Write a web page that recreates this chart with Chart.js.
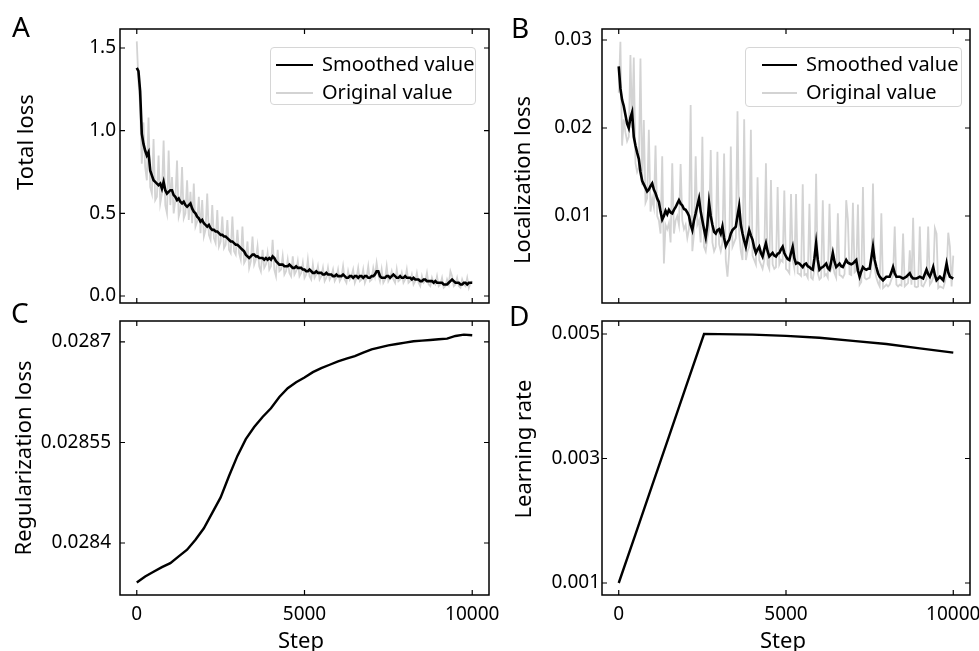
<!DOCTYPE html>
<html>
<head>
<meta charset="utf-8">
<script src="https://cdn.jsdelivr.net/npm/chart.js@4.4.1/dist/chart.umd.min.js"></script>
<style>
  body { margin: 0; background: #fff; }
  #fig { position: relative; width: 979px; height: 651px; overflow: hidden; font-family: "Noto Sans", sans-serif; color: #000; }
  canvas { position: absolute; }
  .letter { position: absolute; font-size: 28px; line-height: 28px; }
  .ytitle { position: absolute; font-size: 22px; line-height: 22px; white-space: nowrap; transform: translate(-50%, -50%) rotate(-90deg); }
  .xtitle { position: absolute; font-size: 22px; line-height: 22px; white-space: nowrap; transform: translate(-50%, -50%); }
  .legend { position: absolute; border: 1px solid #d6d6d6; border-radius: 4px; background: rgba(255,255,255,0.8); box-sizing: border-box; }
  .legend .row { position: absolute; height: 20px; font-size: 20px; line-height: 20px; white-space: nowrap; }
  .legend .sw { position: absolute; height: 0; }
</style>
</head>
<body>
<div id="fig">
  <canvas id="chartA" width="494" height="329" style="left:20px;top:4px"></canvas>
  <canvas id="chartB" width="493" height="329" style="left:502px;top:4px"></canvas>
  <canvas id="chartC" width="494" height="359" style="left:20px;top:296px"></canvas>
  <canvas id="chartD" width="493" height="359" style="left:502px;top:296px"></canvas>

  <div class="letter" style="left:12px;top:12px">A</div>
  <div class="letter" style="left:511px;top:13px">B</div>
  <div class="letter" style="left:11px;top:298px">C</div>
  <div class="letter" style="left:509px;top:301px">D</div>

  <div class="ytitle" style="left:24px;top:142px">Total loss</div>
  <div class="ytitle" style="left:521px;top:180px">Localization loss</div>
  <div class="ytitle" style="left:21.5px;top:458px">Regularization loss</div>
  <div class="ytitle" style="left:522px;top:449px">Learning rate</div>
  <div class="xtitle" style="left:301px;top:639px">Step</div>
  <div class="xtitle" style="left:783px;top:639px">Step</div>

  <div class="legend" style="left:270px;top:47px;width:206px;height:58px">
    <div class="sw" style="left:5px;top:16px;width:37px;border-top:2.5px solid #000"></div>
    <div class="row" style="left:51px;top:6px">Smoothed value</div>
    <div class="sw" style="left:5px;top:44px;width:37px;border-top:2.5px solid #d3d3d3"></div>
    <div class="row" style="left:51px;top:34px">Original value</div>
  </div>
  <div class="legend" style="left:745px;top:47px;width:217px;height:60px">
    <div class="sw" style="left:16px;top:16px;width:35px;border-top:2.5px solid #000"></div>
    <div class="row" style="left:60px;top:6px">Smoothed value</div>
    <div class="sw" style="left:16px;top:44px;width:35px;border-top:2.5px solid #d3d3d3"></div>
    <div class="row" style="left:60px;top:34px">Original value</div>
  </div>
</div>

<script>
// step grid for the noisy loss curves (every 50 steps, 0..10000)
const stepsLoss = Array.from({ length: 201 }, (_, i) => i * 50);

const totalSmoothed = [
  1.38, 1.36, 1.24, 0.98, 0.92, 0.88, 0.85, 0.87, 0.76, 0.73, 0.70, 0.69, 0.68, 0.67, 0.68, 0.65, 0.69, 0.64, 0.62, 0.63,
  0.64, 0.64, 0.61, 0.60, 0.58, 0.59, 0.57, 0.56, 0.57, 0.55, 0.54, 0.55, 0.56, 0.53, 0.51, 0.50, 0.48, 0.47, 0.45, 0.46,
  0.44, 0.43, 0.42, 0.43, 0.41, 0.40, 0.40, 0.39, 0.39, 0.38, 0.37, 0.37, 0.36, 0.36, 0.35, 0.34, 0.33, 0.33, 0.32, 0.31,
  0.31, 0.30, 0.29, 0.28, 0.27, 0.25, 0.24, 0.23, 0.24, 0.25, 0.25, 0.24, 0.24, 0.23, 0.23, 0.23, 0.22, 0.23, 0.22, 0.23,
  0.22, 0.24, 0.23, 0.21, 0.20, 0.19, 0.19, 0.19, 0.18, 0.18, 0.18, 0.19, 0.18, 0.17, 0.17, 0.18, 0.17, 0.17, 0.17, 0.16,
  0.16, 0.15, 0.15, 0.16, 0.15, 0.14, 0.14, 0.15, 0.14, 0.14, 0.14, 0.13, 0.13, 0.14, 0.13, 0.13, 0.13, 0.12, 0.12, 0.13,
  0.12, 0.12, 0.12, 0.13, 0.12, 0.11, 0.11, 0.12, 0.12, 0.11, 0.12, 0.12, 0.11, 0.12, 0.12, 0.11, 0.12, 0.12, 0.11, 0.11,
  0.12, 0.12, 0.13, 0.15, 0.15, 0.12, 0.11, 0.11, 0.11, 0.12, 0.12, 0.11, 0.12, 0.13, 0.12, 0.11, 0.11, 0.12, 0.11, 0.11,
  0.12, 0.11, 0.11, 0.11, 0.10, 0.11, 0.10, 0.10, 0.10, 0.09, 0.09, 0.10, 0.10, 0.09, 0.09, 0.09, 0.09, 0.08, 0.09, 0.08,
  0.08, 0.08, 0.08, 0.07, 0.07, 0.07, 0.08, 0.09, 0.10, 0.09, 0.08, 0.08, 0.08, 0.07, 0.07, 0.08, 0.08, 0.07, 0.08, 0.08,
  0.08
];
const totalOriginal = [
  1.54, 1.30, 1.15, 0.80, 1.05, 0.78, 0.70, 1.08, 0.66, 0.62, 0.95, 0.58, 0.60, 0.85, 0.56, 0.62, 0.94, 0.55, 0.50, 0.88,
  0.55, 0.72, 0.50, 0.58, 0.82, 0.48, 0.52, 0.78, 0.47, 0.50, 0.70, 0.46, 0.63, 0.44, 0.68, 0.42, 0.45, 0.60, 0.38, 0.58,
  0.36, 0.40, 0.62, 0.37, 0.34, 0.55, 0.35, 0.32, 0.52, 0.30, 0.33, 0.48, 0.29, 0.31, 0.46, 0.28, 0.26, 0.48, 0.27, 0.25,
  0.40, 0.26, 0.22, 0.42, 0.20, 0.22, 0.33, 0.17, 0.21, 0.36, 0.19, 0.22, 0.30, 0.18, 0.15, 0.28, 0.17, 0.19, 0.26, 0.16,
  0.18, 0.34, 0.16, 0.12, 0.28, 0.15, 0.16, 0.24, 0.13, 0.15, 0.22, 0.14, 0.12, 0.24, 0.13, 0.15, 0.21, 0.12, 0.14, 0.20,
  0.11, 0.13, 0.22, 0.12, 0.10, 0.19, 0.11, 0.13, 0.18, 0.10, 0.12, 0.17, 0.09, 0.11, 0.17, 0.10, 0.12, 0.16, 0.09, 0.11,
  0.16, 0.09, 0.11, 0.18, 0.10, 0.08, 0.15, 0.10, 0.12, 0.16, 0.08, 0.11, 0.17, 0.09, 0.10, 0.16, 0.08, 0.11, 0.18, 0.09,
  0.10, 0.17, 0.12, 0.20, 0.13, 0.09, 0.16, 0.08, 0.10, 0.18, 0.09, 0.11, 0.15, 0.10, 0.08, 0.16, 0.09, 0.10, 0.14, 0.08,
  0.10, 0.16, 0.08, 0.09, 0.13, 0.07, 0.09, 0.14, 0.08, 0.06, 0.12, 0.08, 0.09, 0.14, 0.07, 0.06, 0.11, 0.08, 0.07, 0.12,
  0.06, 0.07, 0.11, 0.05, 0.06, 0.10, 0.07, 0.15, 0.12, 0.06, 0.07, 0.11, 0.06, 0.05, 0.10, 0.07, 0.06, 0.11, 0.05, 0.08,
  0.09
];

const locSmoothed = [
  0.0270, 0.0245, 0.0232, 0.0225, 0.0215, 0.0205, 0.0200, 0.0212, 0.0218, 0.0190, 0.0180, 0.0172, 0.0165, 0.0150, 0.0140, 0.0136, 0.0132, 0.0128, 0.0130, 0.0134,
  0.0137, 0.0130, 0.0126, 0.0120, 0.0116, 0.0105, 0.0096, 0.0100, 0.0106, 0.0102, 0.0107, 0.0104, 0.0103, 0.0107, 0.0110, 0.0114, 0.0118, 0.0114, 0.0112, 0.0108,
  0.0107, 0.0104, 0.0100, 0.0090, 0.0084, 0.0095, 0.0103, 0.0112, 0.0120, 0.0105, 0.0095, 0.0085, 0.0076, 0.0090, 0.0115, 0.0100, 0.0090, 0.0082, 0.0080, 0.0084,
  0.0085, 0.0080, 0.0088, 0.0075, 0.0066, 0.0070, 0.0073, 0.0080, 0.0084, 0.0086, 0.0088, 0.0100, 0.0111, 0.0090, 0.0080, 0.0072, 0.0065, 0.0075, 0.0084, 0.0078,
  0.0073, 0.0064, 0.0058, 0.0062, 0.0065, 0.0058, 0.0054, 0.0062, 0.0069, 0.0060, 0.0054, 0.0056, 0.0058, 0.0055, 0.0054, 0.0057, 0.0058, 0.0062, 0.0065, 0.0058,
  0.0054, 0.0051, 0.0050, 0.0058, 0.0065, 0.0052, 0.0046, 0.0047, 0.0046, 0.0044, 0.0042, 0.0045, 0.0046, 0.0043, 0.0042, 0.0040, 0.0039, 0.0052, 0.0069, 0.0050,
  0.0039, 0.0041, 0.0042, 0.0044, 0.0046, 0.0041, 0.0039, 0.0048, 0.0058, 0.0048, 0.0042, 0.0044, 0.0046, 0.0043, 0.0042, 0.0046, 0.0050, 0.0047, 0.0046, 0.0045,
  0.0046, 0.0048, 0.0050, 0.0038, 0.0031, 0.0037, 0.0042, 0.0040, 0.0039, 0.0040, 0.0040, 0.0052, 0.0065, 0.0050, 0.0042, 0.0035, 0.0031, 0.0029, 0.0027, 0.0029,
  0.0031, 0.0031, 0.0031, 0.0036, 0.0042, 0.0035, 0.0031, 0.0031, 0.0031, 0.0030, 0.0029, 0.0030, 0.0031, 0.0033, 0.0035, 0.0031, 0.0029, 0.0029, 0.0029, 0.0030,
  0.0031, 0.0030, 0.0029, 0.0034, 0.0039, 0.0034, 0.0031, 0.0036, 0.0042, 0.0033, 0.0027, 0.0029, 0.0031, 0.0029, 0.0027, 0.0036, 0.0046, 0.0036, 0.0031, 0.0030,
  0.0029
];
const locOriginal = [
  0.0240, 0.0298, 0.0180, 0.0210, 0.0195, 0.0185, 0.0190, 0.0283, 0.0200, 0.0280, 0.0160, 0.0150, 0.0155, 0.0279, 0.0135, 0.0209, 0.0115, 0.0120, 0.0198, 0.0105,
  0.0120, 0.0110, 0.0180, 0.0100, 0.0095, 0.0080, 0.0168, 0.0046, 0.0090, 0.0085, 0.0092, 0.0070, 0.0160, 0.0080, 0.0095, 0.0100, 0.0090, 0.0159, 0.0095, 0.0085,
  0.0090, 0.0075, 0.0085, 0.0226, 0.0060, 0.0080, 0.0168, 0.0090, 0.0095, 0.0070, 0.0190, 0.0065, 0.0060, 0.0075, 0.0085, 0.0175, 0.0070, 0.0060, 0.0065, 0.0173,
  0.0068, 0.0060, 0.0070, 0.0171, 0.0050, 0.0031, 0.0058, 0.0179, 0.0065, 0.0070, 0.0075, 0.0219, 0.0080, 0.0060, 0.0050, 0.0210, 0.0050, 0.0060, 0.0065, 0.0198,
  0.0055, 0.0050, 0.0045, 0.0144, 0.0050, 0.0045, 0.0040, 0.0050, 0.0160, 0.0045, 0.0040, 0.0141, 0.0045, 0.0040, 0.0042, 0.0133, 0.0045, 0.0050, 0.0048, 0.0129,
  0.0040, 0.0038, 0.0035, 0.0125, 0.0050, 0.0040, 0.0125, 0.0035, 0.0034, 0.0032, 0.0136, 0.0033, 0.0034, 0.0030, 0.0114, 0.0030, 0.0028, 0.0040, 0.0148, 0.0035,
  0.0028, 0.0030, 0.0118, 0.0032, 0.0034, 0.0030, 0.0114, 0.0040, 0.0045, 0.0035, 0.0030, 0.0103, 0.0033, 0.0032, 0.0030, 0.0034, 0.0118, 0.0096, 0.0034, 0.0033,
  0.0115, 0.0036, 0.0038, 0.0113, 0.0022, 0.0025, 0.0133, 0.0030, 0.0028, 0.0029, 0.0030, 0.0040, 0.0137, 0.0040, 0.0030, 0.0024, 0.0020, 0.0103, 0.0018, 0.0020,
  0.0022, 0.0020, 0.0022, 0.0028, 0.0032, 0.0088, 0.0022, 0.0020, 0.0022, 0.0021, 0.0080, 0.0020, 0.0022, 0.0024, 0.0061, 0.0022, 0.0098, 0.0020, 0.0019, 0.0020,
  0.0088, 0.0021, 0.0020, 0.0024, 0.0028, 0.0088, 0.0022, 0.0025, 0.0030, 0.0086, 0.0080, 0.0018, 0.0020, 0.0019, 0.0018, 0.0025, 0.0036, 0.0081, 0.0065, 0.0020,
  0.0055
];

// regularization loss, every 250 steps
const stepsReg = Array.from({ length: 41 }, (_, i) => i * 250);
const regLoss = [
  0.028341, 0.028350, 0.028357, 0.028364, 0.028370, 0.028380, 0.028390, 0.028405,
  0.028422, 0.028445, 0.028468, 0.028500, 0.028530, 0.028555, 0.028573, 0.028588,
  0.028601, 0.028618, 0.028631, 0.028640, 0.028647, 0.028655, 0.028661, 0.028666,
  0.028671, 0.028675, 0.028679, 0.028684, 0.028689, 0.028692, 0.028695, 0.028697,
  0.028699, 0.028701, 0.028702, 0.028703, 0.028704, 0.028705, 0.028709, 0.028711, 0.028710
];

const stepsLr = [0, 500, 1000, 1500, 2000, 2550, 3000, 4000, 5000, 6000, 7000, 8000, 9000, 10000];
const learningRate = [0.001, 0.00178, 0.00257, 0.00335, 0.00414, 0.005, 0.004998, 0.00499, 0.00497, 0.00494, 0.00489, 0.00484, 0.00477, 0.0047];

const xTicks = [0, 5000, 10000];
const xTickLabels = ["0", "5000", "10000"];
const yTicksA = [0, 0.5, 1.0, 1.5];
const yLabelsA = ["0.0", "0.5", "1.0", "1.5"];
const yTicksB = [0.01, 0.02, 0.03];
const yLabelsB = ["0.01", "0.02", "0.03"];
const yTicksC = [0.0284, 0.02855, 0.0287];
const yLabelsC = ["0.0284", "0.02855", "0.0287"];
const yTicksD = [0.001, 0.003, 0.005];
const yLabelsD = ["0.001", "0.003", "0.005"];

const BLACK = "#000000";
const GRAY = "#d3d3d3";
const TICK_FONT = { family: "'Noto Sans', sans-serif", size: 19 };

function pts(xs, ys) {
  return xs.map((x, i) => ({ x, y: ys[i] }));
}

// box frame + inward ticks on all four sides, matplotlib style
const framePlugin = {
  id: "frame",
  afterDraw(chart) {
    const { ctx, chartArea: a, scales } = chart;
    ctx.save();
    ctx.strokeStyle = "#000";
    ctx.lineWidth = 1.5;
    ctx.strokeRect(a.left, a.top, a.right - a.left, a.bottom - a.top);
    ctx.lineWidth = 1.2;
    ctx.beginPath();
    for (const t of scales.x.ticks) {
      const px = scales.x.getPixelForValue(t.value);
      ctx.moveTo(px, a.bottom);
      ctx.lineTo(px, a.bottom - 5);
      ctx.moveTo(px, a.top);
      ctx.lineTo(px, a.top + 5);
    }
    for (const t of scales.y.ticks) {
      const py = scales.y.getPixelForValue(t.value);
      ctx.moveTo(a.left, py);
      ctx.lineTo(a.left + 5, py);
      ctx.moveTo(a.right, py);
      ctx.lineTo(a.right - 5, py);
    }
    ctx.stroke();
    ctx.restore();
  },
};

function makePanel(id, datasets, yMin, yMax, yTicks, yLabels, yPad, showX) {
  return new Chart(document.getElementById(id), {
    type: "line",
    data: { datasets },
    options: {
      responsive: false,
      animation: false,
      events: [],
      layout: { padding: { top: 25, right: 25, left: 0, bottom: 0 } },
      plugins: { legend: { display: false }, tooltip: { enabled: false } },
      elements: { point: { radius: 0 }, line: { tension: 0 } },
      scales: {
        x: {
          type: "linear",
          min: -500,
          max: 10500,
          grid: { display: false, drawTicks: false },
          border: { display: false },
          afterBuildTicks(scale) {
            scale.ticks = xTicks.map((v) => ({ value: v }));
          },
          afterFit(scale) {
            scale.height = showX ? 60 : 30;
          },
          ticks: {
            display: showX,
            autoSkip: false,
            maxRotation: 0,
            padding: 8,
            color: "#000",
            font: TICK_FONT,
            callback: (v) => xTickLabels[xTicks.indexOf(v)] ?? "",
          },
        },
        y: {
          type: "linear",
          min: yMin,
          max: yMax,
          grid: { display: false, drawTicks: false },
          border: { display: false },
          afterBuildTicks(scale) {
            scale.ticks = yTicks.map((v) => ({ value: v }));
          },
          afterFit(scale) {
            scale.width = 100;
          },
          ticks: {
            autoSkip: false,
            padding: yPad,
            color: "#000",
            font: TICK_FONT,
            callback: (v) => yLabels[yTicks.indexOf(v)] ?? "",
          },
        },
      },
    },
    plugins: [framePlugin],
  });
}

// chart.js paints dataset 0 last, so the smoothed line goes first to sit on top
makePanel(
  "chartA",
  [
    { label: "Smoothed value", data: pts(stepsLoss, totalSmoothed), borderColor: BLACK, borderWidth: 2.6 },
    { label: "Original value", data: pts(stepsLoss, totalOriginal), borderColor: GRAY, borderWidth: 1.8 },
  ],
  -0.0423, 1.615, yTicksA, yLabelsA, 4, false
);

makePanel(
  "chartB",
  [
    { label: "Smoothed value", data: pts(stepsLoss, locSmoothed), borderColor: BLACK, borderWidth: 2.6 },
    { label: "Original value", data: pts(stepsLoss, locOriginal), borderColor: GRAY, borderWidth: 1.8 },
  ],
  0.000114, 0.03125, yTicksB, yLabelsB, 10, false
);

makePanel(
  "chartC",
  [{ label: "Regularization loss", data: pts(stepsReg, regLoss), borderColor: BLACK, borderWidth: 2.4 }],
  0.0283224, 0.0287313, yTicksC, yLabelsC, 9, true
);

makePanel(
  "chartD",
  [{ label: "Learning rate", data: pts(stepsLr, learningRate), borderColor: BLACK, borderWidth: 2.4 }],
  0.000807, 0.005209, yTicksD, yLabelsD, 2, true
);
</script>
</body>
</html>
